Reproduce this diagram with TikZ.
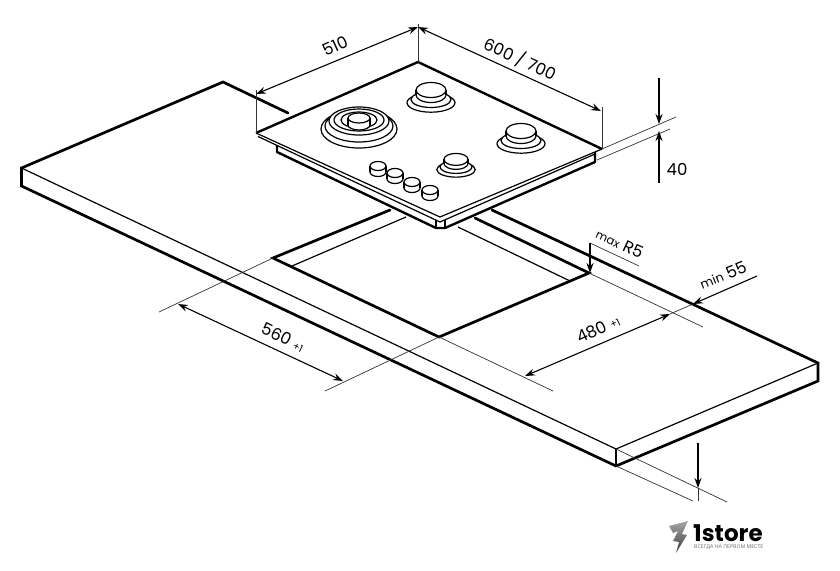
\documentclass[tikz,border=0pt]{standalone}
\usepackage{fontspec}
\usepackage{tikz}
\usetikzlibrary{arrows.meta}
\newfontfamily\dimfont{Poppins}
\newfontfamily\tagfont{Noto Sans}
\newcommand{\dimtxt}{\dimfont\fontsize{16.5}{16.5}\selectfont}
\newcommand{\dimsmall}{\fontsize{10}{10}\selectfont}
\tikzset{
  heavy/.style={line width=2.7pt,line cap=round,line join=miter},
  medium/.style={line width=1.2pt,line join=round},
  thinline/.style={line width=0.7pt,color=black!80},
  dimline/.style={line width=1.1pt,{Stealth[length=10pt,width=7pt,inset=3.5pt]}-{Stealth[length=10pt,width=7pt,inset=3.5pt]}},
  dimend/.style={line width=1.1pt,-{Stealth[length=10pt,width=7pt,inset=3.5pt]}},
  dimlabel/.style={font=\dimtxt,inner sep=0pt},
  ring/.style={line width=1.2pt,fill=white}
}
% one disc with a side wall, (x,y of the top face) rx ry height
\newcommand{\disc}[5]{
  \draw[ring] (#1,#2+#5) ellipse [x radius=#3pt,y radius=#4pt];
  \fill[white] (#1-#3,#2) rectangle (#1+#3,#2+#5);
  \draw[medium] (#1-#3,#2) -- (#1-#3,#2+#5) (#1+#3,#2) -- (#1+#3,#2+#5);
  \draw[ring] (#1,#2) ellipse [x radius=#3pt,y radius=#4pt];
}
\begin{document}
\begin{tikzpicture}[x=1pt,y=-1pt]
  \useasboundingbox (0,0) rectangle (840,570);

  % worktop
  \coordinate (topL) at (21.5,168);
  \coordinate (botL) at (21.5,186);
  \coordinate (topB) at (223,82);
  \coordinate (topF) at (616,449);
  \coordinate (botF) at (616,466);
  \coordinate (topR) at (818,363);
  \coordinate (botR) at (818,381);
  \draw[heavy] (288,113) -- (topB) -- (topL) -- (botL) -- (botF) -- (botR) -- (topR) -- (492,210);
  \draw[medium] (topL) -- (topF) -- (topR);
  \draw[medium] (topF) -- (botF);

  % cut-out
  \coordinate (cutL) at (273,258);
  \coordinate (cutF) at (439,337);
  \coordinate (cutR) at (589,273);
  \draw[heavy] (390,210) -- (cutL) -- (cutF) -- (cutR) -- (475,218);
  \draw[medium] (292,266) -- (406,217);
  \draw[medium] (458,227) -- (570,281);

  % hob
  \coordinate (hobL) at (256,133);
  \coordinate (hobB) at (418,62);
  \coordinate (hobR) at (602,149);
  \coordinate (hobF) at (440,217);
  \draw[line width=2.4pt,line join=round] (hobL) -- (hobB) -- (hobR);
  \draw[medium] (hobL) -- (hobF) -- (hobR);
  \draw[medium] (258,136.5) -- (440,222) -- (595,154);
  \draw[medium] (436,220) -- (436,228) (445,220) -- (445,228);
  \draw[line width=2.4pt,line join=round] (277,145) -- (277,152) -- (436,228) -- (445,228) -- (595,162) -- (595,152);

  % burners
  \foreach \rx/\ry/\cy in {38/19/129,34/16/126,30/14/121,25/11/120,18/8/120}{
    \draw[ring] (359,\cy) ellipse [x radius=\rx pt,y radius=\ry pt];
  }
  \disc{359}{118}{11}{5}{7}
  \foreach \bx/\by/\bs in {431/92/1,521/133/1,456/161/.8}{
    \begin{scope}[shift={(\bx,\by)},scale=\bs]
      \draw[ring] (0,10.7) ellipse [x radius=24pt,y radius=9.5pt];
      \draw[ring] (0,7.5) ellipse [x radius=20pt,y radius=8pt];
      \disc{0}{-2}{15}{7.5}{5}
    \end{scope}
  }
  \foreach \kx/\ky in {378/166,395/173,412/182,430/190}{
    \disc{\kx}{\ky}{8}{4.5}{6}
  }

  % size lines
  \draw[thinline] (hobL) -- (256,90);
  \draw[thinline] (hobB) -- (418,24);
  \draw[thinline] (hobR) -- (602,107);
  \draw[dimline] (256,94) -- (418,27);
  \draw[dimline] (418,27) -- (601,111);
  \node[dimlabel,rotate=24] (lblwidth) at (335,46) {510};
  \node[dimlabel,rotate=-25] (lbldepth) at (520,59) {600 / 700};

  \draw[thinline] (hobR) -- (676,117);
  \draw[thinline] (597,160) -- (670,129);
  \draw[dimend] (659,78) -- (659,124);
  \draw[dimend] (659,183) -- (659,131);
  \node[dimlabel] (lblheight) at (677,169.5) {40};

  \draw[thinline] (cutL) -- (159,312);
  \draw[thinline] (cutF) -- (325,391);
  \draw[dimline] (178,304) -- (343,381);
  \node[dimlabel,rotate=-26] (lbllong) at (283,337) {560 {\dimsmall +1}};

  \draw[thinline] (cutF) -- (553,391);
  \draw[thinline] (cutR) -- (703,327);
  \draw[dimline] (525,376) -- (670,314);
  \node[dimlabel,rotate=25] (lblshort) at (598,329) {480 {\dimsmall +1}};

  \draw[thinline] (670,314) -- (693,304);
  \draw[dimend] (757,276) -- (693,304);
  \node[dimlabel,rotate=22] (lblmin) at (723,275) {{\fontsize{12.5}{12.5}\selectfont min} 55};

  \draw[thinline] (590,243) -- (639,266);
  \draw[dimend] (590,243) -- (590,273);
  \node[dimlabel,rotate=-25] (lblmax) at (620,243) {{\fontsize{11.5}{11.5}\selectfont max} R5};

  \draw[thinline] (topF) -- (727,502);
  \draw[thinline] (botF) -- (693,501);
  \draw[dimend] (698,443) -- (698,488);
  \draw[thinline] (698,488) -- (698,501);

  % logo
  \shade[top color=black!35,bottom color=black!75] (688,521) -- (669,526) -- (673,533) -- (678,531) -- (673,541) -- (679,542) -- (676,553) -- (687,535) -- (682,534) -- cycle;
  \node[inner sep=0pt,anchor=west,font=\dimfont\bfseries\fontsize{23}{23}\selectfont] (logoname) at (693,533) {1store};
  \node[inner sep=0pt,anchor=west,text=black!55,font=\tagfont\fontsize{5.2}{5.2}\selectfont] (logotag) at (694,547) {ВСЕГДА НА ПЕРВОМ МЕСТЕ};
\end{tikzpicture}
\end{document}
